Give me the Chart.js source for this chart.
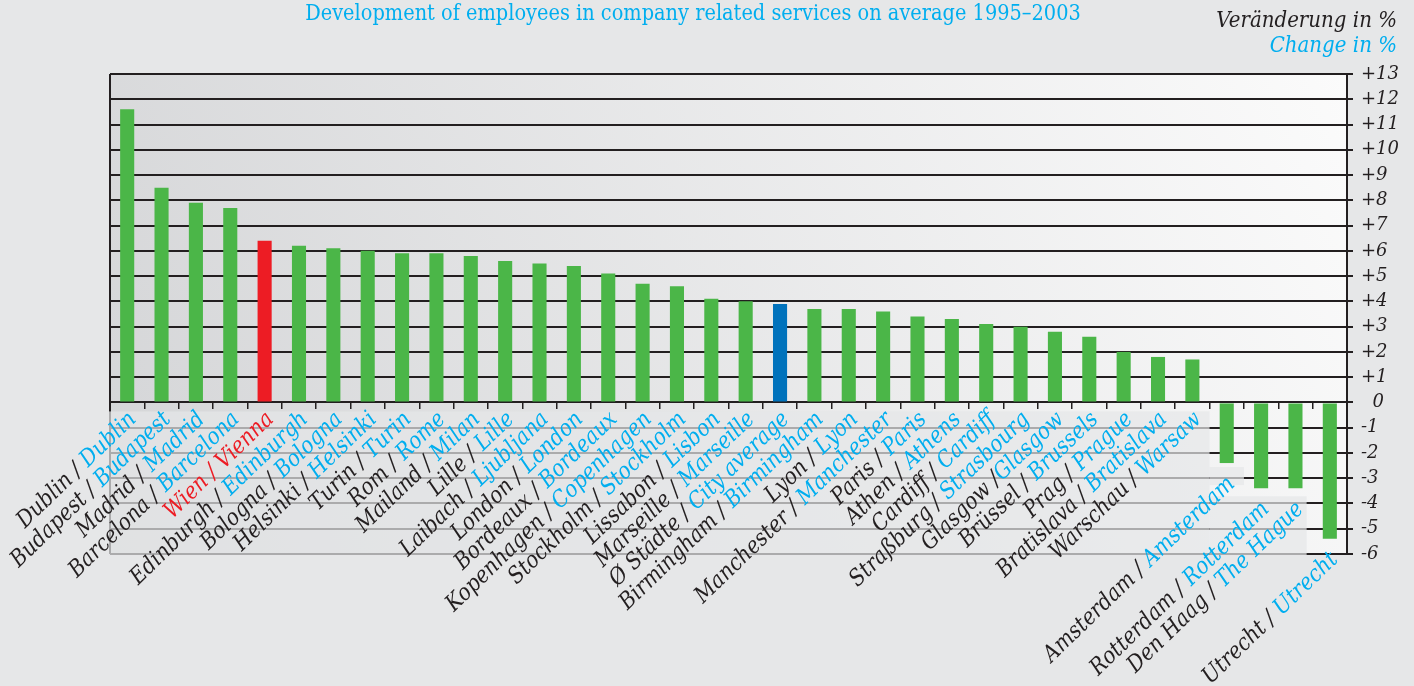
<!DOCTYPE html>
<html lang="de">
<head>
<meta charset="utf-8">
<title>Beschäftigte in unternehmensnahen Dienstleistungen 1995–2003</title>
<script src="https://cdn.jsdelivr.net/npm/chart.js@4.4.1/dist/chart.umd.min.js"></script>
<style>
    html, body { margin: 0; padding: 0; background: #e6e7e8; }
    #chart { display: block; }
</style>
</head>
<body>
<canvas id="chart" width="1414" height="686"></canvas>
<script>
// German / English city names, one entry per bar
const CITY_DE = [
    'Dublin', 'Budapest', 'Madrid', 'Barcelona', 'Wien', 'Edinburgh', 'Bologna', 'Helsinki',
    'Turin', 'Rom', 'Mailand', 'Lille', 'Laibach', 'London', 'Bordeaux', 'Kopenhagen',
    'Stockholm', 'Lissabon', 'Marseille', 'Ø Städte', 'Birmingham', 'Lyon', 'Manchester', 'Paris',
    'Athen', 'Cardiff', 'Straßburg', 'Glasgow', 'Brüssel', 'Prag', 'Bratislava', 'Warschau',
    'Amsterdam', 'Rotterdam', 'Den Haag', 'Utrecht',
];

const CITY_EN = [
    'Dublin', 'Budapest', 'Madrid', 'Barcelona', 'Vienna', 'Edinburgh', 'Bologna', 'Helsinki',
    'Turin', 'Rome', 'Milan', 'Lille', 'Ljubljana', 'London', 'Bordeaux', 'Copenhagen',
    'Stockholm', 'Lisbon', 'Marseille', 'City average', 'Birmingham', 'Lyon', 'Manchester', 'Paris',
    'Athens', 'Cardiff', 'Strasbourg', 'Glasgow', 'Brussels', 'Prague', 'Bratislava', 'Warsaw',
    'Amsterdam', 'Rotterdam', 'The Hague', 'Utrecht',
];

// average change of employees in %, 1995–2003
const CHANGE_PCT = [
    11.6, 8.5, 7.9, 7.7, 6.4, 6.2, 6.1, 6.0,
    5.9, 5.9, 5.8, 5.6, 5.5, 5.4, 5.1, 4.7,
    4.6, 4.1, 4.0, 3.9, 3.7, 3.7, 3.6, 3.4,
    3.3, 3.1, 3.0, 2.8, 2.6, 2.0, 1.8, 1.7,
    -2.4, -3.4, -3.4, -5.4,
];

const Y_MIN = -6;
const Y_MAX = 13;

const TITLE = 'Development of employees in company related services on average 1995–2003';
const UNIT_DE = 'Veränderung in %';
const UNIT_EN = 'Change in %';

const INK = '#231f20';
const CYAN = '#00aeef';
const GREEN = '#4bb648';
const RED = '#ed1c24';
const BLUE = '#0072bc';

const HOME_CITY = 'Wien';
const AVERAGE = 'Ø Städte';
const TIGHT_SLASH = new Set(['Glasgow']);

const FONT_FAMILY = '"DejaVu Serif", "Liberation Serif", serif';
const LABEL_ANGLE = (44 * Math.PI) / 180;
const NARROW = 0.88; // horizontal squeeze for the serif captions

const barColor = (name) => {
    if (name === HOME_CITY) return RED;
    if (name === AVERAGE) return BLUE;
    return GREEN;
};

// text drawn with a slight horizontal squeeze, anchored at its right/centre point
const narrowText = (ctx, text, x, y) => {
    ctx.save();
    ctx.translate(x, y);
    ctx.scale(NARROW, 1);
    ctx.fillText(text, 0, 0);
    ctx.restore();
};

const plotBackground = {
    id: 'plotBackground',
    beforeDraw(chart) {
        const { ctx, chartArea: a } = chart;
        const g = ctx.createLinearGradient(a.left, a.bottom, a.right, a.top);
        g.addColorStop(0, '#d4d5d7');
        g.addColorStop(1, '#fbfbfb');
        ctx.save();
        ctx.fillStyle = g;
        ctx.fillRect(a.left, a.top, a.right - a.left, a.bottom - a.top);
        ctx.restore();
    },
};

// left frame line plus the pale boxes sitting behind the rotated city names
const labelPanel = {
    id: 'labelPanel',
    beforeDatasetsDraw(chart) {
        const { ctx, chartArea: a, scales: { x, y } } = chart;
        const step = x.getPixelForValue(1) - x.getPixelForValue(0);
        const edge = (i) => x.getPixelForValue(i) + step / 2;
        const y0 = y.getPixelForValue(0);
        const lastPositive = CHANGE_PCT.findLastIndex((v) => v >= 0);

        ctx.save();
        ctx.strokeStyle = INK;
        ctx.lineWidth = 2;
        ctx.beginPath();
        ctx.moveTo(a.left, a.top);
        ctx.lineTo(a.left, a.bottom);
        ctx.stroke();

        ctx.fillStyle = 'rgba(230, 231, 232, 0.7)';
        const boxes = [
            [a.left - 2, y0 + 9, edge(lastPositive), a.bottom + 1.5],
            [edge(lastPositive), y.getPixelForValue(CHANGE_PCT[lastPositive + 1]) + 4,
                edge(lastPositive + 1), y.getPixelForValue(CHANGE_PCT[lastPositive + 1]) + 22],
            [edge(lastPositive), y.getPixelForValue(CHANGE_PCT[lastPositive + 2]) + 8,
                edge(lastPositive + 3) - 6, a.bottom + 1.5],
        ];
        boxes.forEach(([x1, y1, x2, y2]) => ctx.fillRect(x1, y1, x2 - x1, y2 - y1));
        ctx.restore();
    },
};

// two-coloured rotated category labels, title and unit caption
const chartTexts = {
    id: 'chartTexts',
    afterDraw(chart) {
        const { ctx, scales: { x, y } } = chart;
        const y0 = y.getPixelForValue(0);

        ctx.save();
        ctx.font = `italic 23px ${FONT_FAMILY}`;
        ctx.textAlign = 'right';
        ctx.textBaseline = 'alphabetic';

        CITY_DE.forEach((de, i) => {
            const value = CHANGE_PCT[i];
            const cx = x.getPixelForValue(i);
            const ax = value >= 0 ? cx + 10 : cx + 9;
            const ay = value >= 0 ? y0 + 18 : y.getPixelForValue(value) + 22;
            const isHome = de === HOME_CITY;
            const prefix = de + (TIGHT_SLASH.has(de) ? ' /' : ' / ');

            ctx.save();
            ctx.translate(ax, ay);
            ctx.rotate(-LABEL_ANGLE);
            ctx.scale(NARROW, 1);
            ctx.fillStyle = isHome ? RED : CYAN;
            ctx.fillText(CITY_EN[i], 0, 0);
            const enWidth = ctx.measureText(CITY_EN[i]).width;
            ctx.fillStyle = isHome ? RED : INK;
            ctx.fillText(prefix, -enWidth, 0);
            ctx.restore();
        });

        ctx.textAlign = 'center';
        ctx.font = `22px ${FONT_FAMILY}`;
        ctx.fillStyle = CYAN;
        narrowText(ctx, TITLE, 693, 20);

        ctx.textAlign = 'right';
        ctx.font = `italic 22.5px ${FONT_FAMILY}`;
        ctx.fillStyle = INK;
        narrowText(ctx, UNIT_DE, 1397, 27);
        ctx.fillStyle = CYAN;
        narrowText(ctx, UNIT_EN, 1397, 52);
        ctx.restore();
    },
};

new Chart(document.getElementById('chart'), {
    type: 'bar',
    data: {
        labels: CITY_DE.map((de, i) => `${de} / ${CITY_EN[i]}`),
        datasets: [
            {
                data: CHANGE_PCT,
                backgroundColor: CITY_DE.map(barColor),
                borderWidth: 0,
                barPercentage: 0.41,
                categoryPercentage: 1,
            },
        ],
    },
    options: {
        responsive: false,
        animation: false,
        layout: { padding: { left: 110, top: 74, right: 0, bottom: 132 } },
        scales: {
            x: {
                type: 'category',
                position: { y: 0 },
                offset: true,
                grid: {
                    display: true,
                    offset: true,
                    drawOnChartArea: false,
                    drawTicks: true,
                    tickLength: 6,
                    color: INK,
                    lineWidth: 1.5,
                },
                border: { display: true, color: INK, width: 2 },
                ticks: { display: false },
            },
            y: {
                position: 'right',
                min: Y_MIN,
                max: Y_MAX,
                afterFit: (scale) => { scale.width = 67; },
                ticks: {
                    stepSize: 1,
                    autoSkip: false,
                    padding: 8,
                    color: INK,
                    font: { family: FONT_FAMILY, size: 18, style: 'italic' },
                    callback: (v) => (v > 0 ? `+${v}` : v === 0 ? '  0' : `${v}`),
                },
                grid: { color: INK, lineWidth: 2, drawTicks: true, tickLength: 6 },
                border: { display: true, color: INK, width: 2 },
            },
        },
        plugins: {
            legend: { display: false },
            tooltip: { enabled: false },
            title: { display: false },
        },
    },
    plugins: [plotBackground, labelPanel, chartTexts],
});
</script>
</body>
</html>
